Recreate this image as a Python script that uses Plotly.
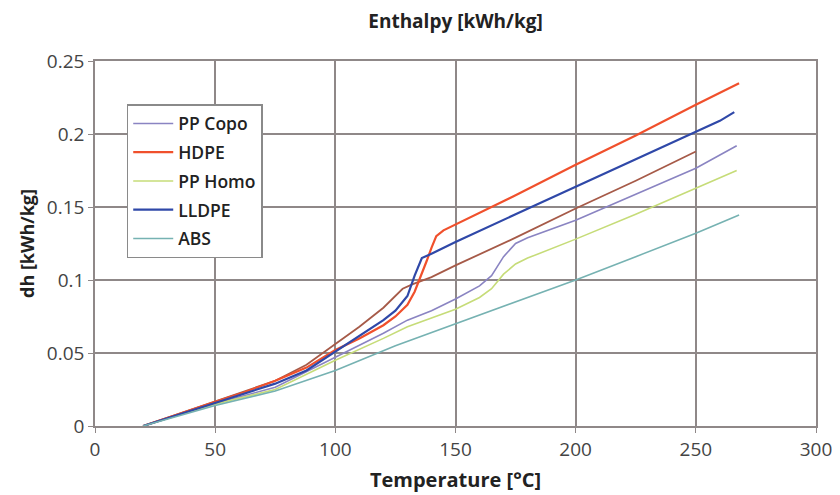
import plotly.graph_objects as go

# ---- data ----
temp_pp_copo = [20, 35, 50, 75, 100, 120, 130, 140, 150, 160, 165, 170, 175, 180, 200, 225, 250, 267]
dh_pp_copo = [0, 0.0075, 0.0155, 0.0265, 0.047, 0.0635, 0.0725, 0.079, 0.087, 0.096, 0.103, 0.116, 0.125, 0.129, 0.141, 0.159, 0.1765, 0.192]

temp_hdpe = [20, 35, 50, 62, 75, 88, 100, 110, 120, 125, 130, 133, 135, 138, 140, 142, 145, 150, 175, 200, 225, 250, 268]
dh_hdpe = [0, 0.008, 0.0165, 0.023, 0.031, 0.040, 0.052, 0.060, 0.069, 0.075, 0.083, 0.092, 0.100, 0.113, 0.122, 0.130, 0.134, 0.138, 0.158, 0.179, 0.199, 0.220, 0.2347]

temp_pp_homo = [20, 35, 50, 75, 100, 120, 130, 140, 150, 160, 165, 170, 175, 180, 200, 225, 250, 267]
dh_pp_homo = [0, 0.0073, 0.015, 0.025, 0.045, 0.060, 0.068, 0.074, 0.080, 0.088, 0.094, 0.104, 0.111, 0.115, 0.128, 0.145, 0.163, 0.175]

temp_lldpe = [20, 35, 50, 62, 75, 88, 100, 110, 120, 125, 130, 133, 136, 140, 150, 175, 200, 225, 250, 260, 266]
dh_lldpe = [0, 0.008, 0.016, 0.022, 0.029, 0.038, 0.051, 0.062, 0.0725, 0.079, 0.089, 0.103, 0.115, 0.118, 0.126, 0.145, 0.164, 0.183, 0.2016, 0.209, 0.215]

temp_abs = [20, 35, 50, 75, 100, 125, 150, 175, 200, 225, 250, 268]
dh_abs = [0, 0.007, 0.014, 0.024, 0.038, 0.055, 0.070, 0.085, 0.100, 0.116, 0.132, 0.1445]

temp_other = [20, 35, 50, 62, 75, 88, 100, 110, 120, 125, 128, 132, 140, 150, 175, 200, 225, 250]
dh_other = [0, 0.0085, 0.0168, 0.024, 0.031, 0.042, 0.0565, 0.068, 0.081, 0.089, 0.094, 0.097, 0.102, 0.110, 0.129, 0.149, 0.168, 0.188]

x_ticks = [0, 50, 100, 150, 200, 250, 300]
y_ticks = [0, 0.05, 0.1, 0.15, 0.2, 0.25]
y_tick_labels = ["0", "0.05", "0.1", "0.15", "0.2", "0.25"]

FONT = "Open Sans"
fig = go.Figure()

series = [
    ("PP Copo", temp_pp_copo, dh_pp_copo, "#8a84c2", 1.6),
    ("HDPE", temp_hdpe, dh_hdpe, "#f0502c", 2.2),
    ("PP Homo", temp_pp_homo, dh_pp_homo, "#c6dc78", 1.6),
    ("LLDPE", temp_lldpe, dh_lldpe, "#2f48a8", 2.2),
    ("ABS", temp_abs, dh_abs, "#76b2b2", 1.6),
]
# unlabeled series drawn first (behind)
fig.add_trace(go.Scatter(x=temp_other, y=dh_other, mode="lines",
                         line=dict(color="#a65a48", width=1.8),
                         showlegend=False, hoverinfo="skip"))
for name, xs, ys, col, w in series:
    fig.add_trace(go.Scatter(x=xs, y=ys, mode="lines", name=name,
                             legendgroup=name,
                             line=dict(color=col, width=w)))

# page body has an 8px margin, so the figure is sized to fill the rest
W, H = 832, 487
grid = "#8f8888"
fig.update_layout(
    width=W, height=H,
    margin=dict(l=87, r=24, t=53, b=69),
    paper_bgcolor="white", plot_bgcolor="white",
    font=dict(family=FONT, color="#333333"),
    title=dict(text="<b>Enthalpy [kWh/kg]</b>", x=0.5, xref="paper",
               y=1 - 13 / H, yref="container", yanchor="middle",
               font=dict(size=19, color="#222222", family=FONT)),
    legend=dict(x=0.044, y=0.882, xanchor="left", yanchor="top",
                bgcolor="white", bordercolor="#8a8a8a", borderwidth=1.5,
                font=dict(size=17.5, color="#222222", family=FONT, weight=600),
                tracegroupgap=3, itemwidth=40, entrywidth=152),
    showlegend=True,
)
fig.update_xaxes(range=[0, 300], tickvals=x_ticks, automargin=False,
                 showgrid=True, gridcolor=grid, gridwidth=1.6,
                 showline=True, linecolor=grid, linewidth=1.6, mirror=True,
                 ticks="outside", ticklen=5, tickcolor=grid,
                 tickfont=dict(size=19, color="#444444"),
                 title=dict(text="<b>Temperature [°C]</b>", standoff=12,
                            font=dict(size=20, color="#222222")),
                 zeroline=False)
fig.update_yaxes(range=[0, 0.25], tickvals=y_ticks, ticktext=y_tick_labels,
                 automargin=False,
                 showgrid=True, gridcolor=grid, gridwidth=1.6,
                 showline=True, linecolor=grid, linewidth=1.6, mirror=True,
                 ticks="outside", ticklen=5, tickcolor=grid,
                 tickfont=dict(size=19, color="#444444"),
                 title=dict(text="<b>dh [kWh/kg]</b>", standoff=8,
                            font=dict(size=18, color="#222222")),
                 zeroline=False)

fig.write_html("out.html")
